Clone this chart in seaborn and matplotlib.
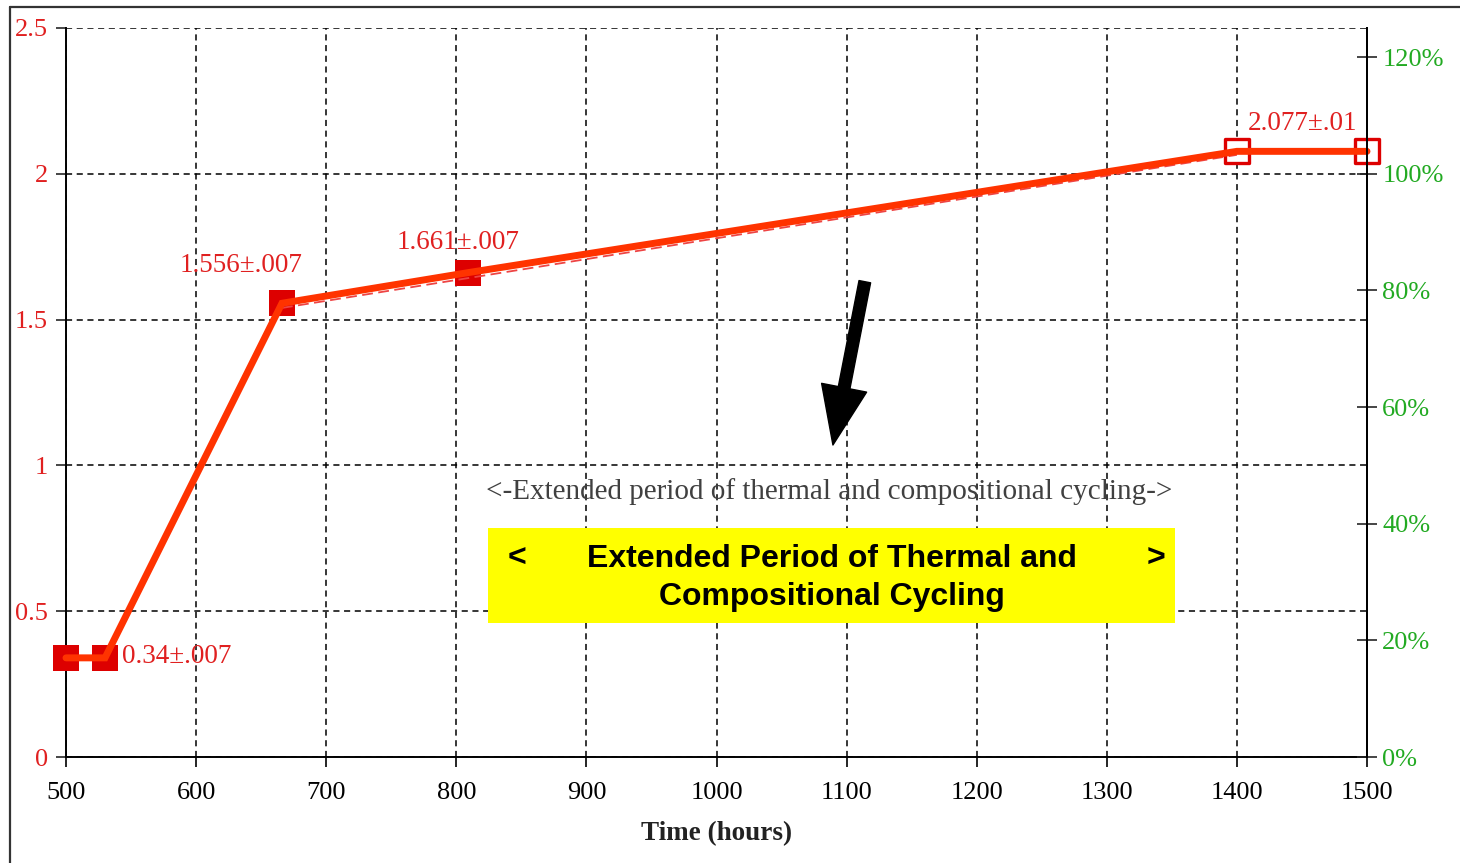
import matplotlib
matplotlib.use("Agg")
import matplotlib.pyplot as plt
import seaborn as sns
import pandas as pd
from matplotlib.patches import Rectangle

# measured points (hours, value)
hours = [500, 530, 666, 809, 1400, 1500]
values = [0.34, 0.34, 1.556, 1.661, 2.077, 2.077]
filled = [True, True, True, True, False, False]

# thin dashed trend under the main line
fit_hours = [666, 1400]
fit_values = [1.54, 2.065]

# point labels: (text, x, y)
point_labels = [
    ("0.34\u00b1.007", 543, 0.343),
    ("1.556\u00b1.007", 587, 1.687),
    ("1.661\u00b1.007", 754, 1.766),
    ("2.077\u00b1.01", 1408, 2.171),
]

x_ticks = [500, 600, 700, 800, 900, 1000, 1100, 1200, 1300, 1400, 1500]
y_ticks = [0, 0.5, 1, 1.5, 2, 2.5]
y_tick_labels = ["0", "0.5", "1", "1.5", "2", "2.5"]
pct_ticks = [0, 20, 40, 60, 80, 100, 120]
pct_labels = ["0%", "20%", "40%", "60%", "80%", "100%", "120%"]

df = pd.DataFrame({"hours": hours, "value": values, "filled": filled})
fit_df = pd.DataFrame({"hours": fit_hours, "value": fit_values})

sns.set_style("white")
plt.rcParams["font.family"] = ["Liberation Serif", "DejaVu Serif"]

fig = plt.figure(figsize=(14.6, 8.63), dpi=100)
ax = fig.add_axes([66 / 1460, 1 - 757 / 863, (1367 - 66) / 1460, (757 - 28) / 863])

# page frame (cropped)
fig.add_artist(plt.Line2D([10 / 1460, 10 / 1460], [0, 1 - 7 / 863], transform=fig.transFigure,
                          color="#333333", lw=1.6))
fig.add_artist(plt.Line2D([10 / 1460, 1], [1 - 7 / 863, 1 - 7 / 863], transform=fig.transFigure,
                          color="#333333", lw=1.6))

red = "#dd0000"
line_red = "#ff3300"

# markers
sns.scatterplot(data=df[df["filled"]], x="hours", y="value", marker="s", s=340,
                color=red, edgecolor=red, linewidth=0, ax=ax, zorder=3, clip_on=False)
sns.scatterplot(data=df[~df["filled"]], x="hours", y="value", marker="s", s=280,
                facecolor="white", edgecolor=red, linewidth=2.4, ax=ax, zorder=3, clip_on=False)

# dashed fit line and main line
sns.lineplot(data=fit_df, x="hours", y="value", color="#ee4444", lw=1.3, ax=ax,
             dashes=False, zorder=3.5, linestyle=(0, (6, 3)))
sns.lineplot(data=df, x="hours", y="value", color=line_red, lw=5, ax=ax, zorder=4,
             solid_joinstyle="miter")
for ln in ax.lines:
    ln.set_clip_on(False)

ax.set_xlim(500, 1500)
ax.set_ylim(0, 2.5)
ax.set_xticks(x_ticks)
ax.set_yticks(y_ticks)
ax.set_yticklabels(y_tick_labels)
ax.set_xlabel("")
ax.set_ylabel("")
ax.grid(True, color="black", lw=1.1, linestyle=(0, (4, 3)))
ax.tick_params(axis="x", labelsize=19, colors="black", direction="out", length=7, width=1.2, pad=11)
ax.tick_params(axis="y", labelsize=19, labelcolor="#e02020", direction="out", length=7, width=1.2, pad=6)
ax.tick_params(left=True, bottom=True)
for side in ["left", "bottom", "right"]:
    ax.spines[side].set_visible(True)
    ax.spines[side].set_color("black")
    ax.spines[side].set_linewidth(1.4)
ax.spines["top"].set_visible(False)

# right percentage axis
ax2 = ax.twinx()
ax2.set_ylim(0, 125)
ax2.set_yticks(pct_ticks)
ax2.set_yticklabels(pct_labels)
ax2.tick_params(axis="y", labelsize=19, labelcolor="#22aa22", direction="inout", length=14,
                width=1.2, pad=4, right=True)
ax2.spines["top"].set_visible(False)
ax2.spines["left"].set_visible(False)
ax2.spines["bottom"].set_visible(False)
ax2.spines["right"].set_color("black")
ax2.spines["right"].set_linewidth(1.4)
ax2.grid(False)

for txt, x, y in point_labels:
    ax.text(x, y, txt, color="#e02020", fontsize=19.5, ha="left", va="center", zorder=5)

ax.text(1087, 0.912, "<-Extended period of thermal and compositional cycling->",
        color="#404040", fontsize=21, ha="center", va="center", zorder=5)

# yellow call-out
ax.add_patch(Rectangle((824.4, 0.4595), 528, 0.3255, facecolor="#ffff00", edgecolor="none", zorder=6))
bold = dict(family=["Liberation Sans", "DejaVu Sans"], fontweight="bold", fontsize=23,
            color="black", zorder=7, va="center")
ax.text(1088.8, 0.678, "Extended Period of Thermal and", ha="center", **bold)
ax.text(1088.8, 0.548, "Compositional Cycling", ha="center", **bold)
ax.text(846.7, 0.678, "<", ha="center", **bold)
ax.text(1337.8, 0.678, ">", ha="center", **bold)

# arrow
ax.annotate("", xy=(1089.5, 1.07), xytext=(1114, 1.63),
            arrowprops=dict(width=8.5, headwidth=33, headlength=42, color="black", shrink=0),
            zorder=7)

fig.text(717 / 1460, 1 - 834 / 863, "Time (hours)", ha="center", va="center",
         fontsize=19.5, fontweight="bold", color="#222222")

fig.savefig("out.png", dpi=100)
